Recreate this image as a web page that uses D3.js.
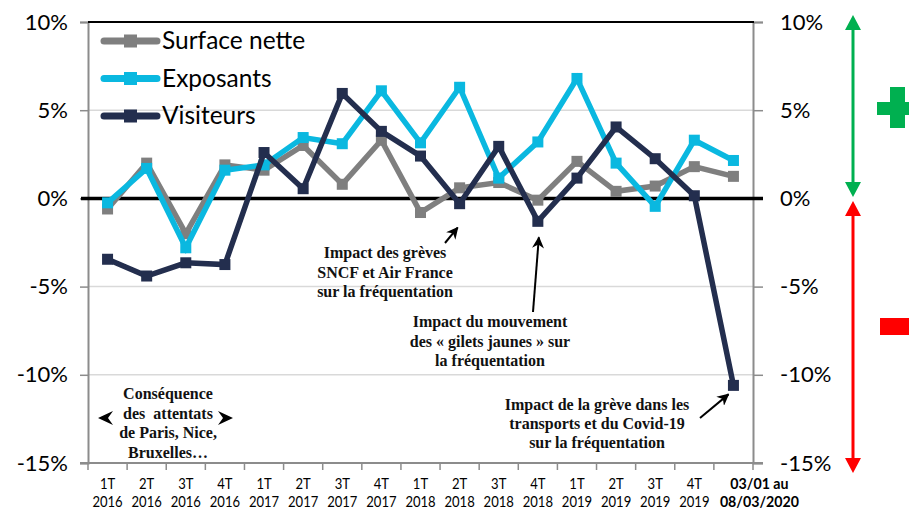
<!DOCTYPE html>
<html><head><meta charset="utf-8">
<script src="https://cdn.jsdelivr.net/npm/d3@7"></script>
<style>
body{margin:0;background:#fff;}
svg{display:block;}
</style></head>
<body>
<svg id="c" width="909" height="510"></svg>
<script>
const quarterLabels = ["1T","2T","3T","4T","1T","2T","3T","4T","1T","2T","3T","4T","1T","2T","3T","4T","03/01 au"];
const yearLabels = ["2016","2016","2016","2016","2017","2017","2017","2017","2018","2018","2018","2018","2019","2019","2019","2019","08/03/2020"];
const surfaceNette = [-0.6, 2.0, -2.0, 1.9, 1.6, 3.0, 0.8, 3.3, -0.8, 0.6, 0.9, -0.1, 2.1, 0.4, 0.7, 1.8, 1.25];
const exposants = [-0.25, 1.7, -2.8, 1.6, 1.9, 3.45, 3.1, 6.1, 3.15, 6.3, 1.15, 3.2, 6.8, 2.0, -0.45, 3.3, 2.15];
const visiteurs = [-3.45, -4.4, -3.65, -3.75, 2.6, 0.55, 5.95, 3.8, 2.4, -0.3, 2.95, -1.3, 1.15, 4.05, 2.25, 0.15, -10.6];
const seriesNames = ["Surface nette", "Exposants", "Visiteurs"];
const yTicks = [10, 5, 0, -5, -10, -15];

const colors = {"Surface nette":"#7f7f7f","Exposants":"#0ab8e0","Visiteurs":"#232e4e"};
const seriesData = [surfaceNette, exposants, visiteurs];

const svg = d3.select("#c");
const L = 88, R = 753, T = 22, B = 463;
const idx = d3.range(quarterLabels.length);
const x = d3.scaleBand().domain(idx).range([L, R]);
const y = d3.scaleLinear().domain([-15, 10]).range([B, T]);
const cx = i => x(i) + x.bandwidth()/2;

// gridlines
svg.append("g").selectAll("line").data([5,-5,-10]).join("line")
  .attr("x1", L).attr("x2", R).attr("y1", d=>y(d)).attr("y2", d=>y(d))
  .attr("stroke", "#d9d9d9").attr("stroke-width", 1.5);

// left axis
const yl = svg.append("g").attr("transform", `translate(${L},0)`)
  .call(d3.axisLeft(y).tickValues(yTicks).tickSize(8).tickFormat(d => d + "%"));
yl.select(".domain").attr("stroke", "#8c8c8c").attr("stroke-width", 2);
yl.selectAll(".tick line").attr("stroke", "#8c8c8c").attr("stroke-width", 1.5);
yl.selectAll("text").attr("x", -20).attr("font-family", "Lato, sans-serif").attr("font-size", 22).attr("fill", "#000");

// right axis
const yr = svg.append("g").attr("transform", `translate(${R},0)`)
  .call(d3.axisRight(y).tickValues(yTicks).tickSize(10).tickFormat(d => d + "%"));
yr.select(".domain").attr("stroke", "#8c8c8c").attr("stroke-width", 2);
yr.selectAll(".tick line").attr("stroke", "#8c8c8c").attr("stroke-width", 1.5);
yr.selectAll("text").attr("x", 27).attr("font-family", "Lato, sans-serif").attr("font-size", 22).attr("fill", "#000");

// top border
svg.append("line").attr("x1", L).attr("x2", R+1).attr("y1", T).attr("y2", T).attr("stroke", "#000").attr("stroke-width", 2);

// bottom axis
const xa = svg.append("g").attr("transform", `translate(0,${B})`);
xa.append("line").attr("x1", L-8).attr("x2", R+10).attr("y1", 0).attr("y2", 0).attr("stroke", "#8c8c8c").attr("stroke-width", 2);
xa.selectAll("line.tk").data(d3.range(quarterLabels.length+1)).join("line").attr("class","tk")
  .attr("x1", i => L + i*x.step()).attr("x2", i => L + i*x.step()).attr("y1", 0).attr("y2", 7)
  .attr("stroke", "#8c8c8c").attr("stroke-width", 1.5);
const last = quarterLabels.length - 1;
function xLabels(cls, arr, dy) {
  xa.selectAll("text." + cls).data(idx).join("text").attr("class", cls)
    .attr("transform", i => `translate(${cx(i) + (i===last ? 26 : 0)},${dy}) scale(${i===last ? 0.98 : 0.9},1)`)
    .attr("text-anchor", "middle")
    .attr("font-family", "Lato, sans-serif")
    .attr("font-size", 14.5)
    .attr("font-weight", i => i===last ? "bold" : "normal")
    .attr("fill", "#000")
    .text(i => arr[i]);
}
xLabels("q", quarterLabels, 25.5);
xLabels("yr", yearLabels, 43.5);

// zero line
svg.append("line").attr("x1", L-7).attr("x2", R+10).attr("y1", y(0)).attr("y2", y(0)).attr("stroke", "#000").attr("stroke-width", 3.5);

// series
const line = d3.line().x((d,i) => cx(i)).y(d => y(d));
seriesNames.forEach((name, k) => {
  const g = svg.append("g");
  g.append("path").datum(seriesData[k]).attr("d", line).attr("fill", "none")
    .attr("stroke", colors[name]).attr("stroke-width", 5.5).attr("stroke-linejoin", "miter");
  g.selectAll("rect").data(seriesData[k]).join("rect")
    .attr("x", (d,i) => cx(i) - 5.5).attr("y", d => y(d) - 5.5).attr("width", 11).attr("height", 11)
    .attr("fill", colors[name]);
});

// legend
const lg = svg.append("g");
seriesNames.forEach((name, k) => {
  const ly = 41 + k*37.5;
  lg.append("line").attr("x1", 104).attr("x2", 157).attr("y1", ly).attr("y2", ly)
    .attr("stroke", colors[name]).attr("stroke-width", 7).attr("stroke-linecap", "round");
  lg.append("rect").attr("x", 124).attr("y", ly-6.5).attr("width", 13).attr("height", 13).attr("fill", colors[name]);
  lg.append("text").attr("x", 162).attr("y", ly + 8).attr("font-family", "Lato, sans-serif").attr("font-size", 24.5)
    .attr("fill", "#000").text(name);
});

// annotations
const ann = svg.append("g").attr("font-family", "'Liberation Serif', 'Times New Roman', serif")
  .attr("font-weight", "bold").attr("font-size", 16).attr("text-anchor", "middle").attr("fill", "#111");
function block(lines, xc, y0, dy) {
  lines.forEach((t, i) => ann.append("text").attr("x", xc).attr("y", y0 + i*dy).text(t));
}
block(["Impact des grèves", "SNCF et Air France", "sur la fréquentation"], 385, 258, 19.5);
block(["Impact du mouvement", "des « gilets jaunes » sur", "la fréquentation"], 490, 327, 19.5);
block(["Impact de la grève dans les", "transports et du Covid-19", "sur la fréquentation"], 597, 410, 19);
block(["Conséquence", "des\u00a0 attentats", "de Paris, Nice,", "Bruxelles…"], 168, 399, 19.5);

svg.append("defs").append("marker").attr("id", "ah").attr("viewBox", "0 0 10 10").attr("refX", 9).attr("refY", 5)
  .attr("markerWidth", 6).attr("markerHeight", 6).attr("markerUnits", "strokeWidth").attr("orient", "auto")
  .append("path").attr("d", "M0,0 L10,5 L0,10 L3,5 Z").attr("fill", "#000");
function arrow(x1, y1, x2, y2) {
  svg.append("line").attr("x1", x1).attr("y1", y1).attr("x2", x2).attr("y2", y2)
    .attr("stroke", "#000").attr("stroke-width", 2).attr("marker-end", "url(#ah)");
}
arrow(445, 243, cx(9) - 2, y(visiteurs[9]) + 24);
arrow(533, 312, cx(11) + 1, y(visiteurs[11]) + 16);
arrow(700, 418, cx(16) - 5, y(visiteurs[16]) + 9);
// double arrow heads around "Conséquence..."
function head(xt, yt, dir) {
  svg.append("path").attr("d", `M${xt},${yt} L${xt - dir*15},${yt-7} L${xt - dir*10},${yt} L${xt - dir*15},${yt+7} Z`).attr("fill", "#000");
}
head(98, 418, -1);
head(233, 418, 1);

// right side indicators
const gx = 853;
function dbl(xc, y1, y2, col) {
  const g = svg.append("g");
  g.append("line").attr("x1", xc).attr("x2", xc).attr("y1", y1 + 12).attr("y2", y2 - 12).attr("stroke", col).attr("stroke-width", 3);
  g.append("path").attr("d", `M${xc},${y1} L${xc-8},${y1+15} L${xc+8},${y1+15} Z`).attr("fill", col);
  g.append("path").attr("d", `M${xc},${y2} L${xc-8},${y2-15} L${xc+8},${y2-15} Z`).attr("fill", col);
}
dbl(gx, 15, 197, "#00b050");
dbl(gx, 201, 473, "#ff0000");
// plus sign
svg.append("rect").attr("x", 877).attr("y", 102).attr("width", 40).attr("height", 13).attr("fill", "#00b050");
svg.append("rect").attr("x", 890).attr("y", 87).attr("width", 15).attr("height", 41).attr("fill", "#00b050");
// minus sign
svg.append("rect").attr("x", 880).attr("y", 318).attr("width", 35).attr("height", 17).attr("fill", "#ff0000");
</script>
</body></html>
